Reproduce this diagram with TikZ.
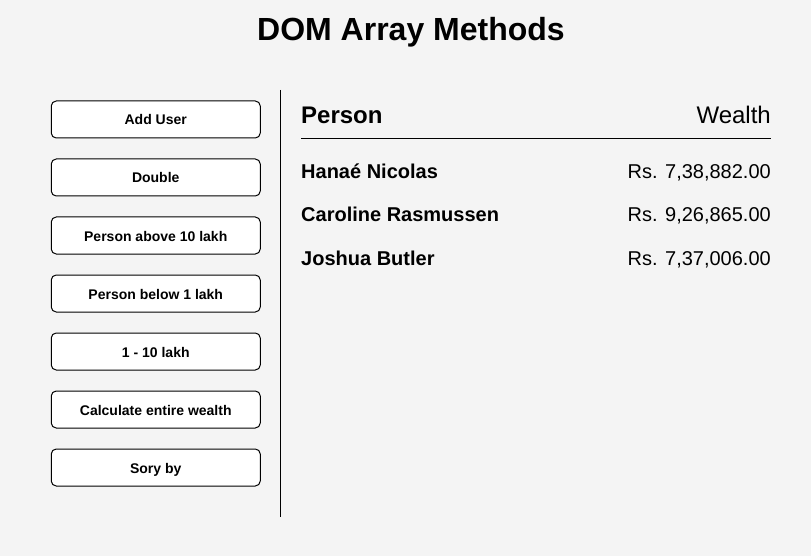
\documentclass[tikz,border=0pt]{standalone}
\usepackage{fontspec}
\setmainfont{Liberation Sans}
\definecolor{pagebg}{HTML}{F4F4F4}

\begin{document}
\begin{tikzpicture}[x=1pt, y=-1pt,
    btn/.style={draw, fill=white, rounded corners=5pt, line width=1pt,
        minimum width=209pt, minimum height=37pt, inner sep=0pt,
        text height=11pt, text depth=0pt,
        font=\fontsize{14}{16}\selectfont\bfseries},
    rowname/.style={anchor=base west, inner sep=0pt, font=\fontsize{20}{24}\selectfont\bfseries},
    rowamount/.style={anchor=base east, inner sep=0pt, font=\fontsize{20}{24}\selectfont}]
    \fill[pagebg](0,0)rectangle(811,556);
    \useasboundingbox(0,0)rectangle(811,556);
    \node[anchor=base, inner sep=0pt, font=\fontsize{32}{38}\selectfont\bfseries](title) at (411,41){DOM Array Methods};
    % buttons on the left
    \foreach \lbl [count=\i from 0] in {Add User, Double, Person above 10 lakh, Person below 1 lakh, 1 - 10 lakh, Calculate entire wealth, Sory by}
        \node[btn](btn\i) at (155.75,119.5+58*\i){\lbl};
    \coordinate (sepTop) at (280.5,90);
    \coordinate (sepBot) at (280.5,517);
    \draw[line width=1pt](sepTop)--(sepBot);
    % table head
    \node[anchor=base west, inner sep=0pt, font=\fontsize{24}{28}\selectfont\bfseries](person) at (301,124){Person};
    \node[anchor=base east, inner sep=0pt, font=\fontsize{24}{28}\selectfont](wealth) at (771,124){Wealth};
    \coordinate (ruleL) at (301,139);
    \coordinate (ruleR) at (771,139);
    \draw[line width=1pt](ruleL)--(ruleR);
    % rows
    \node[rowname](p1) at (301,179){Hanaé Nicolas};
    \node[rowamount](w1) at (771,179){Rs. 7,38,882.00};
    \node[rowname](p2) at (301,222){Caroline Rasmussen};
    \node[rowamount](w2) at (771,222){Rs. 9,26,865.00};
    \node[rowname](p3) at (301,265){Joshua Butler};
    \node[rowamount](w3) at (771,265){Rs. 7,37,006.00};
\end{tikzpicture}
\end{document}
